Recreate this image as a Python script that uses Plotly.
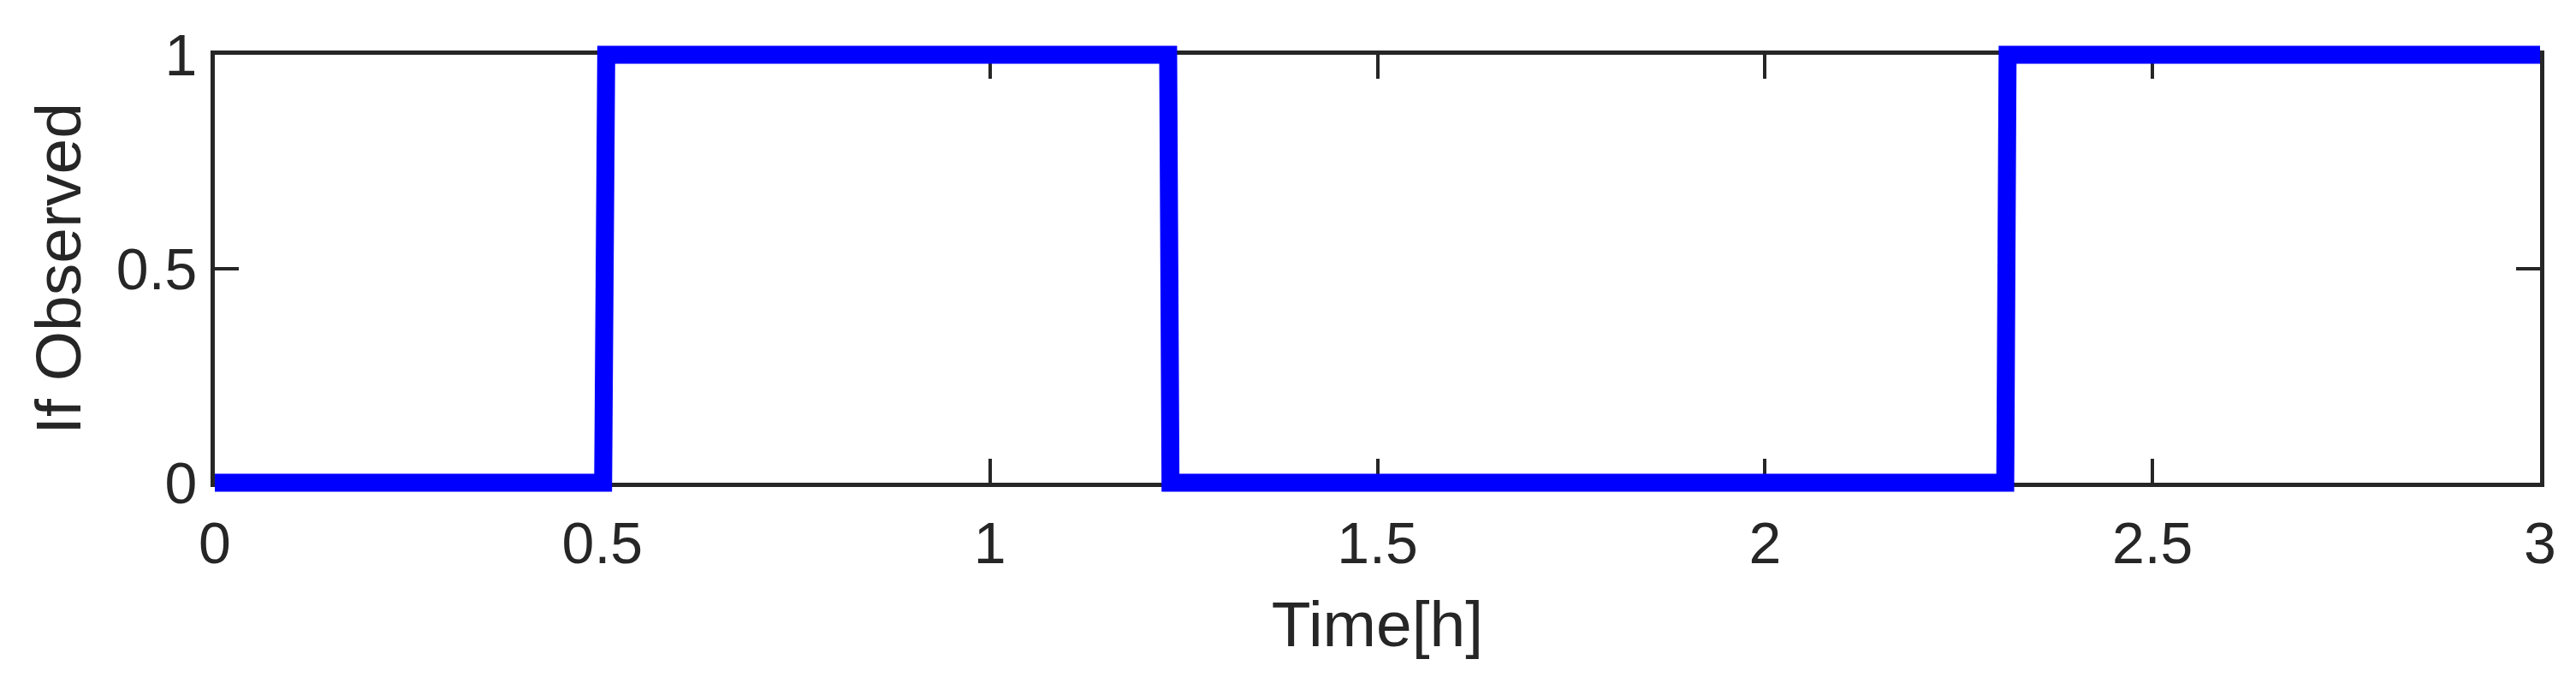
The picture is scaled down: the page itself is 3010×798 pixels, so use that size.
import plotly.graph_objects as go

# Data: observation indicator (step signal) over time in hours
time_h = [0.0, 0.501, 0.505, 1.230, 1.233, 2.310, 2.313, 3.0]
observed = [0, 0, 1, 1, 0, 0, 1, 1]

x_ticks = [0, 0.5, 1, 1.5, 2, 2.5, 3]
x_ticklabels = ["0", "0.5", "1", "1.5", "2", "2.5", "3"]
y_ticks = [0, 0.5, 1]
y_ticklabels = ["0", "0.5", "1"]
x_range = [0, 3]
y_range = [0, 1]

FONT = "Liberation Sans, Arial, Helvetica, sans-serif"
INK = "#262626"

# Layout geometry (pixels); the page body adds an 8px margin around the figure
OFF = 8
W, H = 3010 - OFF, 798 - OFF
AX_L, AX_R, AX_T, AX_B = 251 - OFF, 2968 - OFF, 64 - OFF, 564 - OFF   # axes box
PAD = 30                                       # extra room so the thick line is not clipped
ml, mr, mt, mb = AX_L - PAD, W - AX_R - PAD, AX_T - PAD, H - AX_B - PAD
pw, ph = W - ml - mr, H - mt - mb
x_dom = [PAD / pw, 1 - PAD / pw]
y_dom = [PAD / ph, 1 - PAD / ph]
xs = (x_range[1] - x_range[0]) / (AX_R - AX_L)
ys = (y_range[1] - y_range[0]) / (AX_B - AX_T)
x2_range = [x_range[0] - PAD * xs, x_range[1] + PAD * xs]
y2_range = [y_range[0] - PAD * ys, y_range[1] + PAD * ys]

fig = go.Figure()
# empty trace so the visible axes box (x/y) is drawn
fig.add_trace(go.Scatter(x=[], y=[], mode="lines", xaxis="x", yaxis="y",
                         showlegend=False, hoverinfo="skip"))
fig.add_trace(go.Scatter(
    x=time_h, y=observed, mode="lines", xaxis="x2", yaxis="y2",
    line=dict(color="#0000FF", width=21),
    showlegend=False,
))

axis_common = dict(
    showgrid=False, zeroline=False, automargin=False,
    showline=True, linecolor=INK, linewidth=5,
    mirror="allticks", ticks="inside", ticklen=28, tickwidth=4, tickcolor=INK,
    tickfont=dict(family=FONT, size=68, color=INK),
)

fig.update_layout(
    width=W, height=H,
    margin=dict(l=ml, r=mr, t=mt, b=mb, autoexpand=False),
    paper_bgcolor="white", plot_bgcolor="rgba(0,0,0,0)",
    font=dict(family=FONT, color=INK),
    xaxis=dict(range=x_range, tickvals=x_ticks, ticktext=x_ticklabels, domain=x_dom, anchor="y",
               ticklabelstandoff=7,
               title=dict(text="Time[h]", font=dict(family=FONT, size=75, color=INK), standoff=33),
               **axis_common),
    yaxis=dict(range=y_range, tickvals=y_ticks, ticktext=y_ticklabels, domain=y_dom, anchor="x",
               ticklabelstandoff=2,
               title=dict(text="If Observed", font=dict(family=FONT, size=75, color=INK), standoff=18),
               **axis_common),
    xaxis2=dict(range=x2_range, domain=[0, 1], anchor="y2", visible=False, fixedrange=True,
                automargin=False),
    yaxis2=dict(range=y2_range, domain=[0, 1], anchor="x2", visible=False, fixedrange=True,
                automargin=False),
)

fig.write_html("out.html")
